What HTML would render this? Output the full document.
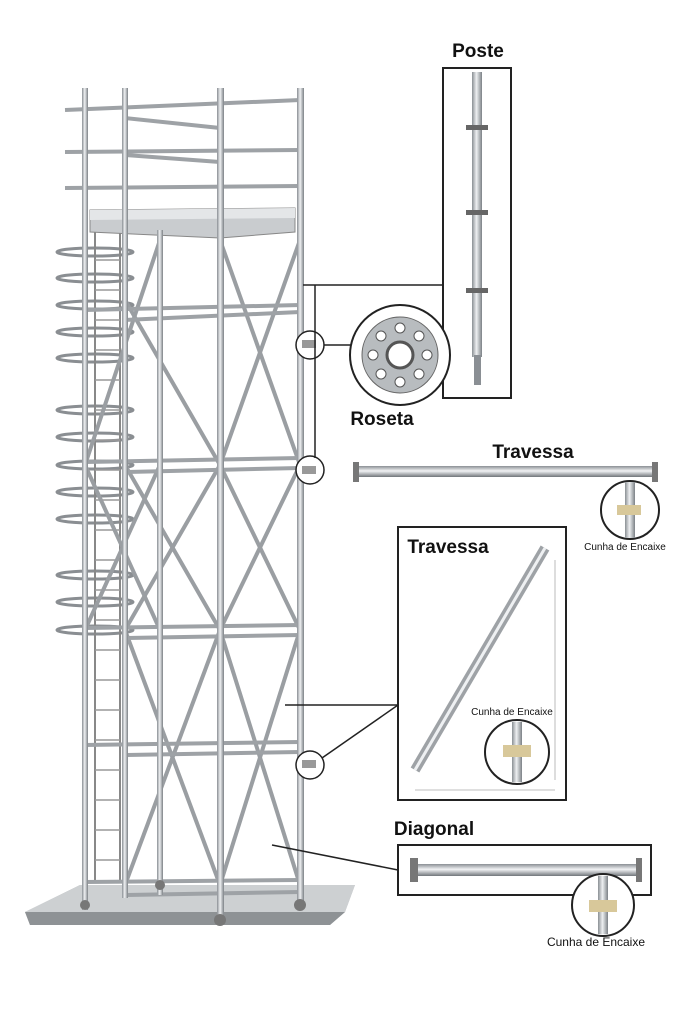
<!DOCTYPE html>
<html><head><meta charset="utf-8"><style>
html,body{margin:0;padding:0;background:#fff;}
svg{display:block;font-family:"Liberation Sans",sans-serif;}
</style></head><body>
<svg width="683" height="1024" viewBox="0 0 683 1024" xmlns="http://www.w3.org/2000/svg">
<defs>
<linearGradient id="pipe" x1="0" x2="1"><stop offset="0" stop-color="#8a8f94"/><stop offset=".45" stop-color="#eef0f2"/><stop offset="1" stop-color="#7c8186"/></linearGradient>
<linearGradient id="pipeh" x1="0" x2="0" y1="0" y2="1"><stop offset="0" stop-color="#8a8f94"/><stop offset=".45" stop-color="#f2f3f5"/><stop offset="1" stop-color="#70757a"/></linearGradient>
</defs>
<!-- base slab -->
<polygon points="25,912 80,885 355,885 345,912 330,925 30,925" fill="#b9bcbe"/>
<polygon points="25,912 345,912 330,925 30,925" fill="#8e9295"/>
<polygon points="80,885 355,885 345,912 25,912" fill="#cdd0d2"/>
<!-- ladder cage rings -->
<g fill="none" stroke="#8a8e92" stroke-width="3">
<ellipse cx="95" cy="252" rx="38" ry="4"/><ellipse cx="95" cy="278" rx="38" ry="4"/><ellipse cx="95" cy="305" rx="38" ry="4"/>
<ellipse cx="95" cy="332" rx="38" ry="4"/><ellipse cx="95" cy="358" rx="38" ry="4"/><ellipse cx="95" cy="410" rx="38" ry="4"/>
<ellipse cx="95" cy="437" rx="38" ry="4"/><ellipse cx="95" cy="465" rx="38" ry="4"/><ellipse cx="95" cy="492" rx="38" ry="4"/>
<ellipse cx="95" cy="519" rx="38" ry="4"/><ellipse cx="95" cy="575" rx="38" ry="4"/><ellipse cx="95" cy="602" rx="38" ry="4"/>
<ellipse cx="95" cy="630" rx="38" ry="4"/>
</g>
<!-- ladder -->
<g stroke="#888" stroke-width="2">
<line x1="95" y1="230" x2="95" y2="880"/><line x1="120" y1="230" x2="120" y2="880"/>
</g>
<g stroke="#999" stroke-width="1.5" id="rungs">
<line x1="95" y1="260" x2="120" y2="260"/><line x1="95" y1="290" x2="120" y2="290"/><line x1="95" y1="320" x2="120" y2="320"/>
<line x1="95" y1="350" x2="120" y2="350"/><line x1="95" y1="380" x2="120" y2="380"/><line x1="95" y1="410" x2="120" y2="410"/>
<line x1="95" y1="440" x2="120" y2="440"/><line x1="95" y1="470" x2="120" y2="470"/><line x1="95" y1="500" x2="120" y2="500"/>
<line x1="95" y1="530" x2="120" y2="530"/><line x1="95" y1="560" x2="120" y2="560"/><line x1="95" y1="590" x2="120" y2="590"/>
<line x1="95" y1="620" x2="120" y2="620"/><line x1="95" y1="650" x2="120" y2="650"/><line x1="95" y1="680" x2="120" y2="680"/>
<line x1="95" y1="710" x2="120" y2="710"/><line x1="95" y1="740" x2="120" y2="740"/><line x1="95" y1="770" x2="120" y2="770"/>
<line x1="95" y1="800" x2="120" y2="800"/><line x1="95" y1="830" x2="120" y2="830"/><line x1="95" y1="860" x2="120" y2="860"/>
</g>
<!-- diagonals -->
<g stroke="#9a9ea2" stroke-width="4">
<line x1="220" y1="240" x2="300" y2="465"/><line x1="300" y1="240" x2="220" y2="465"/>
<line x1="220" y1="465" x2="300" y2="630"/><line x1="300" y1="465" x2="220" y2="630"/>
<line x1="220" y1="630" x2="300" y2="885"/><line x1="300" y1="630" x2="220" y2="885"/>
<line x1="125" y1="300" x2="220" y2="465"/><line x1="160" y1="240" x2="85" y2="465"/>
<line x1="125" y1="465" x2="220" y2="630"/><line x1="220" y1="465" x2="125" y2="630"/>
<line x1="125" y1="630" x2="220" y2="885"/><line x1="220" y1="630" x2="125" y2="885"/>
<line x1="160" y1="465" x2="85" y2="630"/><line x1="85" y1="465" x2="160" y2="630"/>
</g>
<!-- horizontal ledgers -->
<g stroke="#9ea2a6" stroke-width="4">
<line x1="65" y1="110" x2="300" y2="100"/><line x1="65" y1="152" x2="300" y2="150"/><line x1="65" y1="188" x2="300" y2="186"/>
<line x1="125" y1="118" x2="220" y2="128"/><line x1="125" y1="155" x2="220" y2="162"/>
<line x1="85" y1="310" x2="300" y2="305"/><line x1="125" y1="320" x2="300" y2="312"/>
<line x1="85" y1="462" x2="300" y2="458"/><line x1="125" y1="472" x2="300" y2="468"/>
<line x1="85" y1="628" x2="300" y2="625"/><line x1="125" y1="638" x2="300" y2="635"/>
<line x1="85" y1="745" x2="300" y2="742"/><line x1="125" y1="755" x2="300" y2="752"/>
<line x1="85" y1="882" x2="300" y2="880"/><line x1="125" y1="895" x2="300" y2="892"/>
</g>
<!-- platform -->
<polygon points="90,210 295,208 295,232 220,238 90,232" fill="#c9cccf" stroke="#888" stroke-width="1"/>
<polygon points="90,210 295,208 295,218 90,220" fill="#e4e6e8"/>
<!-- posts -->
<g fill="url(#pipe)">
<rect x="82" y="88" width="6" height="822"/><rect x="122" y="88" width="6" height="810"/>
<rect x="157" y="230" width="6" height="665"/><rect x="217" y="88" width="7" height="835"/>
<rect x="297" y="88" width="7" height="820"/>
</g>
<g fill="#777"><circle cx="85" cy="905" r="5"/><circle cx="220" cy="920" r="6"/><circle cx="300" cy="905" r="6"/><circle cx="160" cy="885" r="5"/></g>
<!-- small circles on tower -->
<g fill="#fff" stroke="#222" stroke-width="1.5">
<circle cx="310" cy="345" r="14"/><circle cx="310" cy="470" r="14"/><circle cx="310" cy="765" r="14"/>
</g>
<g fill="#999"><rect x="302" y="340" width="14" height="8"/><rect x="302" y="466" width="14" height="8"/><rect x="302" y="760" width="14" height="8"/></g>
<!-- connectors -->
<g stroke="#222" stroke-width="1.5" fill="none">
<polyline points="303,285 443,285"/><line x1="315" y1="285" x2="315" y2="458"/>
<line x1="324" y1="345" x2="352" y2="345"/>
<line x1="285" y1="705" x2="398" y2="705"/><line x1="322" y1="758" x2="398" y2="705"/>
<line x1="272" y1="845" x2="398" y2="870"/>
</g>
<!-- Poste box -->
<rect x="443" y="68" width="68" height="330" fill="#fff" stroke="#222" stroke-width="2"/>
<rect x="472" y="72" width="10" height="285" fill="url(#pipe)"/>
<rect x="474" y="355" width="7" height="30" fill="#8a8f94"/>
<g fill="#666"><rect x="466" y="125" width="22" height="5"/><rect x="466" y="210" width="22" height="5"/><rect x="466" y="288" width="22" height="5"/></g>
<text x="478" y="57" font-size="19" font-weight="bold" text-anchor="middle" fill="#111">Poste</text>
<!-- Roseta -->
<circle cx="400" cy="355" r="50" fill="#fff" stroke="#222" stroke-width="2"/>
<circle cx="400" cy="355" r="38" fill="#b8bcbf" stroke="#666"/>
<circle cx="400" cy="355" r="13" fill="#fff" stroke="#555" stroke-width="3"/>
<g fill="#fff" stroke="#555"><circle cx="400" cy="328" r="5"/><circle cx="419" cy="336" r="5"/><circle cx="427" cy="355" r="5"/><circle cx="419" cy="374" r="5"/><circle cx="400" cy="382" r="5"/><circle cx="381" cy="374" r="5"/><circle cx="373" cy="355" r="5"/><circle cx="381" cy="336" r="5"/></g>
<text x="382" y="425" font-size="19" font-weight="bold" text-anchor="middle" fill="#111">Roseta</text>
<!-- Travessa bar -->
<text x="533" y="458" font-size="19" font-weight="bold" text-anchor="middle" fill="#111">Travessa</text>
<rect x="356" y="466" width="300" height="11" fill="url(#pipeh)"/>
<rect x="353" y="462" width="6" height="20" fill="#777"/><rect x="652" y="462" width="6" height="20" fill="#777"/>
<circle cx="630" cy="510" r="29" fill="#fff" stroke="#222" stroke-width="2"/>
<rect x="625" y="482" width="10" height="56" fill="url(#pipe)"/><rect x="617" y="505" width="24" height="10" fill="#d8c89a"/>
<text x="625" y="550" font-size="10" text-anchor="middle" fill="#111">Cunha de Encaixe</text>
<!-- Travessa box -->
<rect x="398" y="527" width="168" height="273" fill="#fff" stroke="#222" stroke-width="2"/>
<text x="448" y="553" font-size="19" font-weight="bold" text-anchor="middle" fill="#111">Travessa</text>
<line x1="545" y1="548" x2="415" y2="770" stroke="#9ea2a6" stroke-width="10"/>
<line x1="545" y1="548" x2="415" y2="770" stroke="#eef0f2" stroke-width="3"/>
<line x1="555" y1="560" x2="555" y2="780" stroke="#aaa" stroke-width="0.8"/>
<line x1="415" y1="790" x2="555" y2="790" stroke="#aaa" stroke-width="0.8"/>
<text x="512" y="715" font-size="10" text-anchor="middle" fill="#111">Cunha de Encaixe</text>
<circle cx="517" cy="752" r="32" fill="#fff" stroke="#222" stroke-width="2"/>
<rect x="512" y="722" width="10" height="60" fill="url(#pipe)"/><rect x="503" y="745" width="28" height="12" fill="#d8c89a"/>
<!-- Diagonal -->
<text x="434" y="835" font-size="19" font-weight="bold" text-anchor="middle" fill="#111">Diagonal</text>
<rect x="398" y="845" width="253" height="50" fill="#fff" stroke="#222" stroke-width="2"/>
<rect x="415" y="864" width="225" height="12" fill="url(#pipeh)"/>
<rect x="410" y="858" width="8" height="24" fill="#777"/><rect x="636" y="858" width="6" height="24" fill="#777"/>
<circle cx="603" cy="905" r="31" fill="#fff" stroke="#222" stroke-width="2"/>
<rect x="598" y="876" width="10" height="58" fill="url(#pipe)"/><rect x="589" y="900" width="28" height="12" fill="#d8c89a"/>
<text x="596" y="946" font-size="12" text-anchor="middle" fill="#111">Cunha de Encaixe</text>
</svg>
</body></html>
